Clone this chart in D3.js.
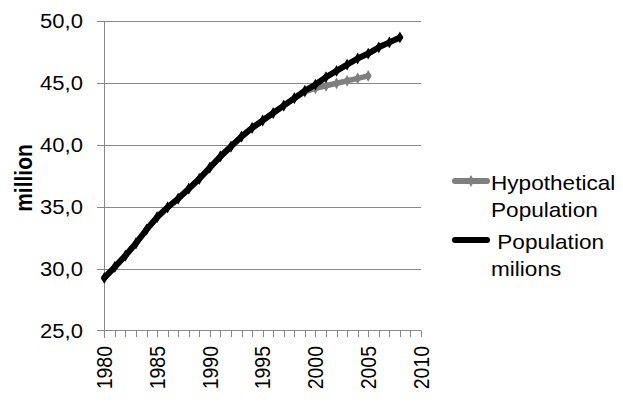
<!DOCTYPE html>
<html>
<head>
<meta charset="utf-8">
<script src="https://cdn.jsdelivr.net/npm/d3@7"></script>
<style>
  html, body { margin: 0; padding: 0; background: #fff; }
  svg { display: block; }
  text { font-family: "Liberation Sans", Arial, sans-serif; fill: #000; }
</style>
</head>
<body>
<svg id="chart" width="623" height="402"></svg>
<script>
// ---- data ----
const years = [1980,1981,1982,1983,1984,1985,1986,1987,1988,1989,1990,1991,1992,1993,1994,
               1995,1996,1997,1998,1999,2000,2001,2002,2003,2004,2005,2006,2007,2008];
const populationMilions = [29.3,30.2,31.1,32.1,33.2,34.2,35.0,35.7,36.5,37.3,38.2,39.1,39.9,40.7,41.4,
                           42.0,42.6,43.2,43.8,44.4,44.9,45.5,46.0,46.5,47.0,47.4,47.9,48.3,48.7];
const hypotheticalYears = [1980,1981,1982,1983,1984,1985,1986,1987,1988,1989,1990,1991,1992,1993,1994,
                           1995,1996,1997,1998,1999,2000,2001,2002,2003,2004,2005];
const hypotheticalPopulation = [29.3,30.2,31.1,32.1,33.2,34.2,35.0,35.7,36.5,37.3,38.2,39.1,39.9,40.7,41.4,
                                42.0,42.6,43.2,43.8,44.3,44.6,44.8,45.0,45.2,45.4,45.6];
const yTicks = [25,30,35,40,45,50];
const xTickLabels = [1980,1985,1990,1995,2000,2005,2010];
const seriesNames = ["Hypothetical|Population", " Population|milions"];
const yAxisTitle = "million";

// ---- layout ----
const SX = 1.13; // horizontal stretch of the reference text
const svg = d3.select("#chart");
const x = d3.scaleLinear().domain([1980, 2010]).range([104.3, 421]);
const y = d3.scaleLinear().domain([25, 50]).range([331.3, 21.3]);
const gridColor = "#888888";

const defs = svg.append("defs");
defs.append("filter").attr("id", "soft")
  .attr("filterUnits", "userSpaceOnUse")
  .attr("x", 0).attr("y", 0).attr("width", 623).attr("height", 402)
  .append("feGaussianBlur").attr("stdDeviation", 0.6);

// gridlines
svg.append("g").selectAll("line").data(yTicks.filter(d => d > 25)).join("line")
  .attr("x1", 97).attr("x2", x(2010))
  .attr("y1", d => Math.round(y(d)) + 0.5).attr("y2", d => Math.round(y(d)) + 0.5)
  .attr("stroke", gridColor).attr("stroke-width", 1);

// y axis line
const yAxisX = Math.round(x(1980)) + 0.5;
svg.append("line").attr("x1", yAxisX).attr("x2", yAxisX)
  .attr("y1", Math.round(y(50)) + 0.5).attr("y2", Math.round(y(25)) + 7)
  .attr("stroke", gridColor);
// x axis line
const xAxisY = Math.round(y(25)) - 0.5;
svg.append("line").attr("x1", 97).attr("x2", x(2010))
  .attr("y1", xAxisY).attr("y2", xAxisY).attr("stroke", gridColor);
// minor year ticks
svg.append("g").selectAll("line").data(d3.range(1981, 2011)).join("line")
  .attr("x1", d => Math.round(x(d)) + 0.5).attr("x2", d => Math.round(x(d)) + 0.5)
  .attr("y1", xAxisY).attr("y2", xAxisY + 6.5)
  .attr("stroke", gridColor);

// y tick labels
svg.append("g").selectAll("g").data(yTicks).join("g")
  .attr("transform", d => `translate(83,${y(d)}) scale(${SX},1)`)
  .append("text")
  .attr("text-anchor", "end").attr("dy", "0.35em")
  .style("font-size", "19.5px")
  .text(d => d3.format(".1f")(d).replace(".", ","));

// x tick labels (rotated)
svg.append("g").selectAll("g").data(xTickLabels).join("g")
  .attr("transform", d => `translate(${x(d)},346) scale(${SX},1) rotate(-90)`)
  .append("text")
  .attr("text-anchor", "end").attr("dy", "0.35em")
  .style("font-size", "19.5px")
  .text(d => d);

// y axis title
svg.append("g").attr("transform", `translate(24,178) scale(${SX},1) rotate(-90)`)
  .append("text").attr("text-anchor", "middle").attr("dy", "0.35em")
  .style("font-size", "21px").style("font-weight", "bold")
  .text(yAxisTitle);

// lines
const line = d3.line().x(d => x(d[0])).y(d => y(d[1]));
const hypo = hypotheticalYears.map((yr, i) => [yr, hypotheticalPopulation[i]]);
const pop = years.map((yr, i) => [yr, populationMilions[i]]);
const diamond = d3.symbol().type(d3.symbolDiamond).size(40);

function drawSeries(data, color, width) {
  const g = svg.append("g").attr("filter", "url(#soft)");
  g.append("path").datum(data).attr("d", line)
    .attr("fill", "none").attr("stroke", color).attr("stroke-width", width)
    .attr("stroke-linejoin", "round").attr("stroke-linecap", "round");
  g.selectAll("path.m").data(data).join("path").attr("class", "m")
    .attr("d", diamond)
    .attr("transform", d => `translate(${x(d[0])},${y(d[1])})`)
    .attr("fill", color);
}
drawSeries(hypo, "#7f7f7f", 5.5);
drawSeries(pop, "#000000", 6);

// legend
const leg = svg.append("g");
const legendItems = [
  {name: seriesNames[0], color: "#7f7f7f", ly: 181, tx: 491, ty: 190, marker: true},
  {name: seriesNames[1], color: "#000000", ly: 240, tx: 491, ty: 249, marker: false}
];
legendItems.forEach(it => {
  const g = leg.append("g").attr("filter", "url(#soft)");
  g.append("line").attr("x1", 455).attr("x2", 487).attr("y1", it.ly).attr("y2", it.ly)
    .attr("stroke", it.color).attr("stroke-width", 6).attr("stroke-linecap", "round");
  if (it.marker) {
    g.append("path").attr("d", diamond).attr("transform", `translate(471,${it.ly})`).attr("fill", it.color);
  }
  const lines = it.name.split("|");
  lines.forEach((t, i) => {
    leg.append("g").attr("transform", `translate(${it.tx},${it.ty + i * 27}) scale(${SX},1)`)
      .append("text").style("font-size", "20px").attr("xml:space", "preserve")
      .style("white-space", "pre").text(t);
  });
});
</script>
</body>
</html>
